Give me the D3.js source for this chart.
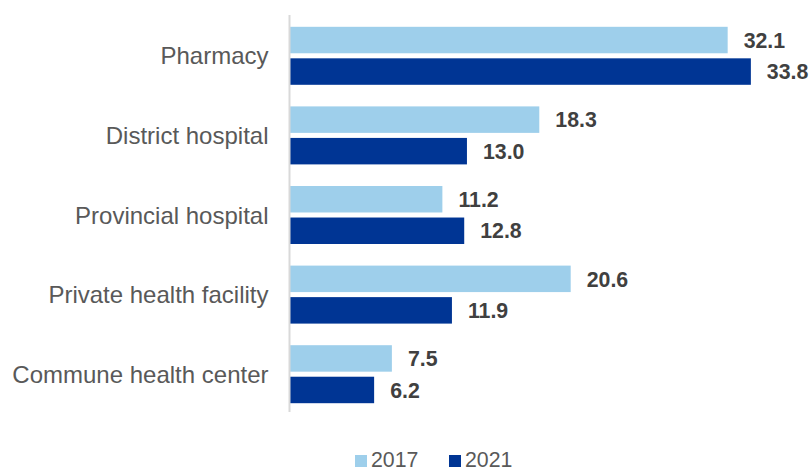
<!DOCTYPE html>
<html>
<head>
<meta charset="utf-8">
<style>
    body { margin:0; background:#fff; }
    text { font-family: "Liberation Sans", Arial, sans-serif; }
    .cat { font-size:24px; fill:#595959; }
    .val { font-size:21.3px; font-weight:bold; fill:#404040; }
    .leg { font-size:21.3px; fill:#595959; }
</style>
<script src="https://cdn.jsdelivr.net/npm/d3@7"></script>
</head>
<body>
<div id="chart"></div>
<script>
    var width = 811, height = 472;

    var categories = ["Pharmacy", "District hospital", "Provincial hospital", "Private health facility", "Commune health center"];
    var series = ["2017", "2021"];
    var values2017 = [32.1, 18.3, 11.2, 20.6, 7.5];
    var values2021 = [33.8, 13.0, 12.8, 11.9, 6.2];
    var colors = ["#9ecfeb", "#003594"];

    var rows = categories.map(function(c, i){
        return {cat: c, vals: [values2017[i], values2021[i]]};
    });

    var svg = d3.select("#chart").append("svg")
        .attr("width", width).attr("height", height);

    var x = d3.scaleLinear().domain([0, 35]).range([289.5, 767.25]);
    var y = d3.scaleBand().domain(categories).range([16, 414]).padding(0);
    var yInner = d3.scaleBand().domain(series).range([0, 58]).paddingInner(0.16);

    var groups = svg.selectAll(".grp")
        .data(rows).enter().append("g")
        .attr("class", "grp")
        .attr("transform", function(d){
            return "translate(0," + (y(d.cat) + y.bandwidth()/2 - 29) + ")";
        });

    groups.selectAll("rect")
        .data(function(d){ return d.vals.map(function(v, j){ return {v:v, s:series[j], j:j}; }); })
        .enter().append("rect")
        .attr("x", x(0))
        .attr("y", function(d){ return yInner(d.s); })
        .attr("width", function(d){ return x(d.v) - x(0); })
        .attr("height", yInner.bandwidth())
        .attr("fill", function(d){ return colors[d.j]; });

    groups.selectAll("text.val")
        .data(function(d){ return d.vals.map(function(v, j){ return {v:v, s:series[j]}; }); })
        .enter().append("text")
        .attr("class", "val")
        .attr("x", function(d){ return x(d.v) + 16; })
        .attr("y", function(d){ return yInner(d.s) + yInner.bandwidth()/2; })
        .attr("dy", "0.36em")
        .text(function(d){ return d3.format(".1f")(d.v); });

    // category axis
    var yAxis = d3.axisLeft(y).tickSize(0).tickPadding(21);
    var ax = svg.append("g")
        .attr("transform", "translate(" + x(0) + ",0)")
        .call(yAxis);
    ax.select(".domain").attr("d", "M0,15V412").attr("stroke", "#d9d9d9").attr("stroke-width", 2);
    ax.selectAll(".tick text")
        .attr("class", "cat")
        .attr("font-family", null).attr("font-size", null).attr("fill", null)
        .attr("dy", "0.36em");

    // legend
    var leg = svg.append("g").attr("transform", "translate(355,455)");
    var legX = [0, 94];
    series.forEach(function(s, i){
        leg.append("rect").attr("x", legX[i]).attr("y", 0)
            .attr("width", 12).attr("height", 12).attr("fill", colors[i]);
        leg.append("text").attr("class", "leg")
            .attr("x", legX[i] + 16).attr("y", 12).text(s);
    });
</script>
</body>
</html>
